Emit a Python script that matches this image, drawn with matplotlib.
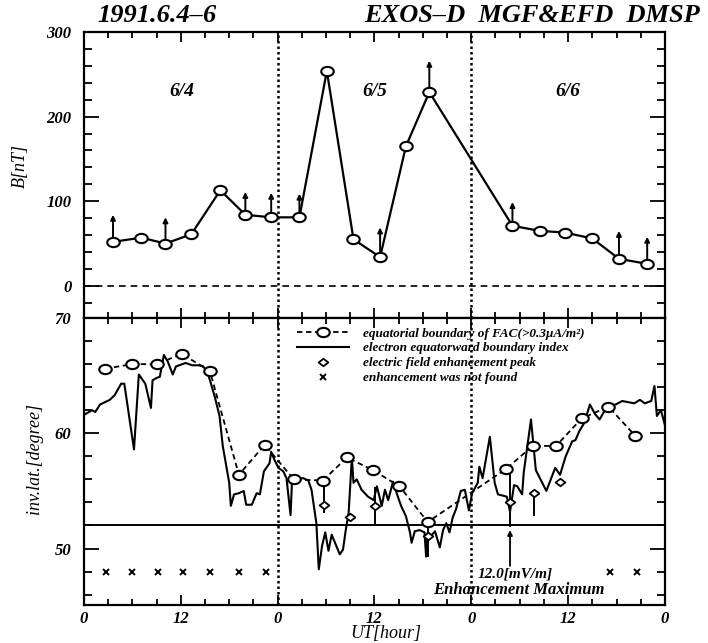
import numpy as np
import matplotlib.pyplot as plt
from matplotlib.path import Path
from matplotlib.lines import Line2D
from matplotlib.ticker import MultipleLocator, FuncFormatter

plt.rcParams['font.family'] = ['Liberation Serif', 'DejaVu Serif']
plt.rcParams['font.weight'] = 'bold'
plt.rcParams['font.style'] = 'italic'

# --- top panel: FAC magnetic perturbation B[nT] ---
b_hours = [3.6, 7.1, 10.1, 13.3, 16.9, 20.0, 23.2, 26.7, 30.1, 33.4,
           36.7, 39.9, 42.8, 53.1, 56.5, 59.6, 63.0, 66.3, 69.8]
b_vals = [52, 57, 50, 61, 113, 84, 81, 81, 254, 55,
          34, 165, 229, 71, 65, 63, 56, 32, 26]
# points with an upward arrow (hour, B, arrow tip)
arr_hours = [3.6, 10.1, 20.0, 23.2, 26.7, 36.7, 42.8, 53.1, 66.3, 69.8]
arr_base = [52, 50, 84, 81, 81, 34, 229, 71, 32, 26]
arr_tip = [84, 81, 111, 110, 109, 69, 266, 99, 65, 58]

# --- bottom panel: boundaries in invariant latitude ---
fac_hours = [2.6, 6.0, 9.1, 12.1, 15.6, 19.2, 22.4, 26.0, 29.6, 32.6,
             35.8, 39.1, 42.6, 52.3, 55.6, 58.5, 61.7, 65.0, 68.3]
fac_lat = [65.6, 66.0, 66.0, 66.9, 65.4, 56.4, 59.0, 56.0, 55.9, 57.9,
           56.8, 55.4, 52.3, 56.9, 58.9, 58.9, 61.3, 62.3, 59.8]

eb_hours = [0, 1.0, 1.4, 2.0, 3.2, 3.8, 4.6, 5.0, 6.2, 6.8, 7.6, 8.3, 8.5,
            9.0, 9.4, 9.9, 10.4, 11.0, 11.4, 12.6, 13.4, 14.2, 14.8, 15.4,
            16.2, 16.8, 17.2, 18.0, 18.2, 18.6, 19.2, 19.8, 20.1, 20.8,
            21.4, 21.8, 22.3, 23.0, 23.2, 23.6, 24.1, 24.7, 25.1, 25.6,
            25.8, 26.6, 27.2, 27.8, 28.2, 28.8, 29.1, 29.5, 29.9, 30.3,
            30.7, 31.7, 32.1, 32.4, 32.8, 33.2, 33.4, 33.8, 34.4, 35.2,
            35.9, 36.3, 36.9, 37.3, 37.7, 38.3, 38.9, 39.3, 39.9, 40.4,
            40.6, 41.0, 41.6, 42.2, 42.4, 42.6, 43.0, 43.5, 44.1, 44.5,
            44.9, 45.3, 45.7, 46.1, 46.7, 47.2, 47.7, 48.1, 48.8, 49.0,
            49.4, 50.3, 50.9, 51.3, 52.4, 52.8, 53.3, 53.7, 54.3, 54.5,
            55.4, 56.0, 57.3, 58.4, 59.0, 59.7, 60.5, 60.9, 61.4, 62.0,
            62.7, 63.3, 63.9, 64.8, 65.9, 66.7, 68.2, 68.9, 69.5, 70.3,
            70.7, 71.0, 71.5, 72.0]
eb_lat = [61.6, 62.0, 61.85, 62.5, 62.9, 63.3, 64.3, 64.3, 58.6, 65.1, 64.3,
          62.2, 64.6, 64.8, 64.9, 66.8, 66.2, 65.1, 65.8, 66.1, 65.9, 65.9,
          65.8, 65.1, 63.2, 61.5, 58.9, 55.7, 53.7, 54.7, 54.8, 55.0, 53.8,
          53.8, 54.8, 54.7, 56.7, 57.4, 58.4, 57.7, 57.0, 56.7, 56.1, 52.9,
          56.1, 56.1, 56.1, 55.9, 55.1, 52.2, 48.2, 50.2, 51.4, 49.8, 51.2,
          49.5, 49.9, 51.4, 53.1, 57.9, 55.7, 56.0, 55.1, 54.5, 54.2, 55.4,
          53.7, 55.1, 54.2, 55.8, 54.5, 53.7, 52.8, 51.4, 50.5, 51.5, 51.6,
          51.4, 49.3, 51.4, 51.1, 51.5, 50.1, 51.6, 52.2, 51.4, 52.7, 53.4,
          55.0, 55.1, 53.3, 54.8, 55.7, 57.1, 56.1, 59.7, 55.7, 54.7, 54.5,
          53.2, 55.5, 55.4, 54.7, 56.6, 61.2, 56.8, 55.0, 57.0, 56.4, 58.0,
          59.3, 59.4, 60.2, 60.9, 62.5, 61.7, 61.2, 62.3, 62.5, 62.8, 62.6,
          62.9, 62.6, 62.8, 64.1, 61.5, 62.0, 60.7]

ef_hours = [29.7, 33.0, 36.1, 42.6, 52.8, 55.8, 59.0]
ef_lat = [53.8, 52.7, 53.7, 51.1, 54.0, 54.8, 55.8]
ef_top = [55.9, 52.7, 55.3, 52.3, 56.9, 54.8, 55.8]
ef_bot = [53.1, 52.7, 52.0, 49.3, 51.9, 52.8, 55.8]

nf_hours = [2.7, 6.0, 9.2, 12.3, 15.6, 19.2, 22.5, 65.2, 68.5]
nf_lat = [48] * len(nf_hours)

day_labels = ['6/4', '6/5', '6/6']
day_pos = [12.1, 36.0, 60.0]

circ = Path.unit_circle()
ellipse = Path(circ.vertices * [1.35, 1.0], circ.codes)
diamond = Path([(-1.3, 0), (0, 1), (1.3, 0), (0, -1), (-1.3, 0)],
               [Path.MOVETO, Path.LINETO, Path.LINETO, Path.LINETO, Path.CLOSEPOLY])

fig = plt.figure(figsize=(7.08, 6.43), dpi=100)
ax1 = fig.add_axes([0.1186, 0.5054, 0.8206, 0.4448])
ax2 = fig.add_axes([0.1186, 0.0591, 0.8206, 0.4463])

# top panel
ax1.plot(b_hours, b_vals, color='k', lw=1.6, marker=ellipse, ms=9,
         mfc='white', mec='k', mew=1.5, zorder=3)
for h, b, t in zip(arr_hours, arr_base, arr_tip):
    ax1.annotate('', xy=(h, t), xytext=(h, b),
                 arrowprops=dict(arrowstyle='-|>', lw=1.4, color='k',
                                 mutation_scale=7, shrinkA=3.5, shrinkB=0))
ax1.axhline(0, color='k', lw=1.2, ls=(0, (4, 3)))
for d, p in zip(day_labels, day_pos):
    ax1.text(p, 230, d, ha='center', va='center', fontsize=14)
ax1.set_ylim(-38, 300)
ax1.yaxis.set_major_locator(MultipleLocator(100))
ax1.yaxis.set_minor_locator(MultipleLocator(20))
ax1.set_ylabel('B[nT]', fontsize=13)
ax1.yaxis.set_label_coords(-0.095, 0.53)
ax1.tick_params(axis='x', labelbottom=False)

# bottom panel
ax2.plot(eb_hours, eb_lat, color='k', lw=1.5, zorder=2)
ax2.plot(fac_hours, fac_lat, color='k', lw=1.3, ls=(0, (3, 2)), marker=ellipse,
         ms=9, mfc='white', mec='k', mew=1.5, zorder=4)
ax2.vlines(ef_hours, ef_bot, ef_top, color='k', lw=1.4, zorder=3)
ax2.plot(ef_hours, ef_lat, ls='none', marker=diamond, ms=7, mfc='white',
         mec='k', mew=1.3, zorder=5)
ax2.plot(nf_hours, nf_lat, ls='none', marker='x', ms=5, mew=1.4, color='k')
ax2.axhline(52, color='k', lw=1.4)
ax2.annotate('', xy=(52.8, 51.6), xytext=(52.8, 48.5),
             arrowprops=dict(arrowstyle='-|>', lw=1.3, color='k',
                             mutation_scale=7, shrinkA=0, shrinkB=0))
ax2.text(53.4, 47.8, '12.0[mV/m]', ha='center', va='center', fontsize=11)
ax2.text(53.9, 46.4, 'Enhancement Maximum', ha='center', va='center', fontsize=12)
ax2.set_ylim(45.1, 70)
ax2.yaxis.set_major_locator(MultipleLocator(10))
ax2.yaxis.set_minor_locator(MultipleLocator(2))
ax2.set_ylabel('inv.lat.[degree]', fontsize=13)
ax2.yaxis.set_label_coords(-0.07, 0.51)
ax2.set_xlabel('UT[hour]', fontsize=13)
ax2.xaxis.set_label_coords(0.52, -0.07)
ax2.xaxis.set_major_formatter(FuncFormatter(lambda v, p: '%d' % (int(v) % 24)))

handles = [
    Line2D([], [], color='k', ls=(0, (3, 2)), lw=1.3, marker=ellipse, ms=9,
           mfc='white', mec='k', mew=1.5),
    Line2D([], [], color='k', lw=1.5),
    Line2D([], [], ls='none', marker=diamond, ms=7, mfc='white', mec='k', mew=1.3),
    Line2D([], [], ls='none', marker='x', ms=5, mew=1.4, color='k'),
]
labels = ['equatorial boundary of FAC(>0.3\u03bcA/m\u00b2)',
          'electron equatorward boundary index',
          'electric field enhancement peak',
          'enhancement was not found']
ax2.legend(handles, labels, loc='upper left', bbox_to_anchor=(0.35, 1.0),
           frameon=False, fontsize=9.5, handlelength=4.0, handletextpad=1.0,
           labelspacing=0.2, borderaxespad=0.3, numpoints=1)

for ax in (ax1, ax2):
    ax.set_xlim(0, 72)
    ax.xaxis.set_major_locator(MultipleLocator(12))
    ax.xaxis.set_minor_locator(MultipleLocator(3))
    ax.axvline(24, color='k', lw=1.8, ls=(0, (1, 1.2)))
    ax.axvline(48, color='k', lw=1.8, ls=(0, (1, 1.2)))
    ax.tick_params(which='both', direction='in', top=True, right=True, width=1.3)
    ax.tick_params(axis='x', which='major', length=7, labelsize=12, pad=4)
    ax.tick_params(axis='x', which='minor', length=4)
    ax.tick_params(axis='y', which='major', length=11, labelsize=12, pad=9)
    ax.tick_params(axis='y', which='minor', length=6)
    for s in ax.spines.values():
        s.set_linewidth(1.6)

fig.text(97 / 708, 1 - 16 / 643, '1991.6.4\u20136', ha='left', va='center', fontsize=19)
fig.text(700 / 708, 1 - 16 / 643, 'EXOS\u2013D  MGF&EFD  DMSP', ha='right',
         va='center', fontsize=19)

fig.savefig('out.png', dpi=100)
